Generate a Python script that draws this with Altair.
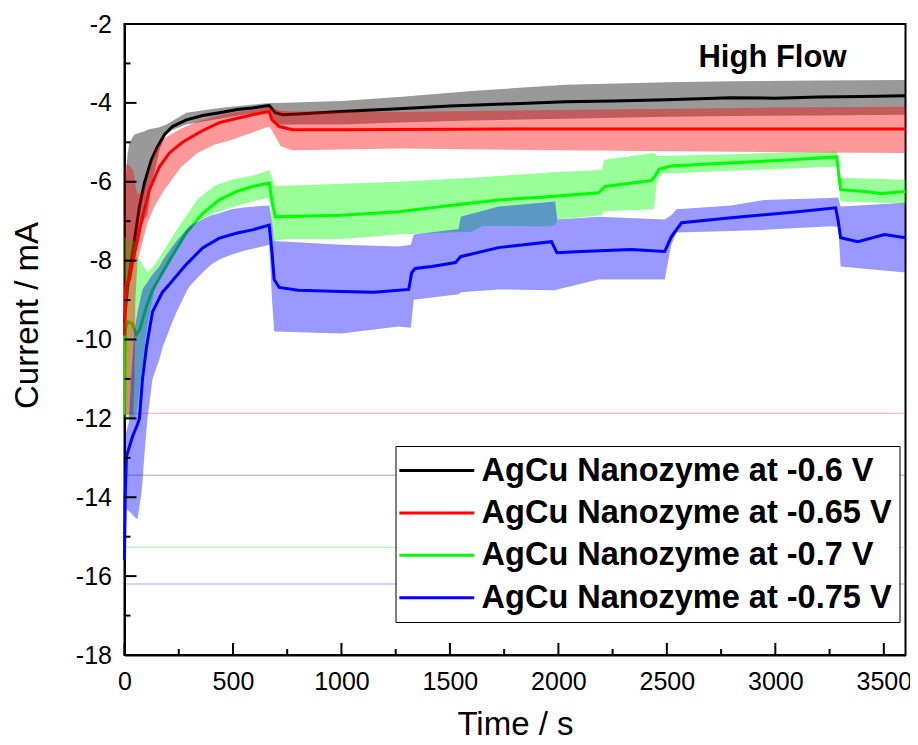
import altair as alt
import pandas as pd

labels = ["AgCu Nanozyme at -0.6 V", "AgCu Nanozyme at -0.65 V",
          "AgCu Nanozyme at -0.7 V", "AgCu Nanozyme at -0.75 V"]
colors = ["#000000", "#ff0000", "#00ff00", "#0000ff"]

# ---- -0.6 V (black) ----
k_t = [0, 5, 14, 23, 46, 69, 92, 124, 152, 185, 221, 285, 360, 437, 520, 589, 650, 667, 680, 695, 730, 800,
       1000, 1264, 1500, 1750, 2032, 2250, 2500, 2797, 3000, 3200, 3400, 3600]
k_y = [-9.6, -9.2, -8.7, -8.3, -7.47, -6.63, -6.03, -5.44, -5.11, -4.8, -4.6, -4.43, -4.32, -4.25, -4.17, -4.13,
       -4.08, -4.07, -4.15, -4.25, -4.3, -4.28, -4.22, -4.15, -4.08, -4.03, -3.97, -3.95, -3.92, -3.87, -3.88,
       -3.85, -3.84, -3.82]
k_bt = [0, 5, 14, 23, 46, 69, 92, 106, 120, 161, 193, 285, 437, 667, 680, 700, 1000, 1264, 1600, 2032, 2500,
        2800, 3200, 3600]
k_hi = [-6.0, -6.0, -5.3, -5.0, -4.8, -4.76, -4.72, -4.68, -4.66, -4.62, -4.55, -4.25, -4.13, -4.0, -4.0, -4.0,
        -3.95, -3.85, -3.7, -3.54, -3.48, -3.45, -3.43, -3.42]
k_lo = [-10.0, -9.4, -9.0, -8.6, -8.0, -7.2, -6.95, -6.85, -6.2, -5.2, -4.75, -4.55, -4.4, -4.2, -4.35, -4.55,
        -4.55, -4.5, -4.45, -4.4, -4.35, -4.33, -4.32, -4.3]

# ---- -0.65 V (red) ----
r_t = [0, 3, 8, 23, 37, 60, 83, 115, 161, 207, 267, 354, 437, 492, 589, 667, 680, 713, 773, 1000, 1500, 2000,
       2500, 3000, 3600]
r_y = [-9.9, -9.0, -8.6, -8.48, -8.05, -7.47, -6.89, -6.2, -5.62, -5.27, -5.0, -4.72, -4.5, -4.43, -4.3, -4.22,
       -4.43, -4.6, -4.68, -4.68, -4.67, -4.66, -4.66, -4.66, -4.66]
r_bt = [0, 5, 14, 40, 46, 50, 60, 80, 106, 140, 184, 262, 336, 414, 492, 589, 667, 690, 720, 773, 1000, 1264,
        2000, 3000, 3600]
r_hi = [-5.7, -5.6, -5.55, -5.7, -5.9, -6.1, -6.3, -6.3, -5.9, -5.2, -4.9, -4.65, -4.47, -4.35, -4.25, -4.18,
        -4.1, -4.15, -4.2, -4.22, -4.22, -4.23, -4.18, -4.12, -4.1]
r_lo = [-11.95, -11.9, -11.9, -11.9, -11.0, -9.0, -8.0, -7.6, -7.04, -6.6, -6.2, -5.62, -5.27, -5.06, -4.94,
        -4.75, -4.6, -4.8, -5.1, -5.2, -5.18, -5.16, -5.2, -5.25, -5.27]

# ---- -0.7 V (green) ----
g_t = [0, 2, 5, 15, 35, 55, 70, 101, 129, 170, 207, 284, 360, 437, 515, 589, 667, 680, 695, 750, 1000, 1264,
       1500, 1724, 1954, 2184, 2200, 2215, 2428, 2445, 2465, 2520, 2795, 3050, 3283, 3292, 3301, 3411, 3485, 3600]
g_y = [-11.9, -10.5, -9.7, -9.55, -9.6, -9.87, -9.75, -9.16, -8.75, -8.35, -8.0, -7.3, -6.8, -6.46, -6.25,
       -6.12, -6.03, -6.5, -6.89, -6.88, -6.85, -6.76, -6.6, -6.46, -6.38, -6.28, -6.2, -6.12, -5.97, -5.85,
       -5.68, -5.6, -5.52, -5.45, -5.37, -5.8, -6.2, -6.25, -6.3, -6.25]
g_bt = [0, 5, 46, 60, 106, 140, 184, 262, 336, 414, 492, 589, 667, 680, 690, 750, 1000, 1264, 1600, 1650, 1954,
        1985, 1995, 2200, 2212, 2440, 2455, 2480, 2800, 3283, 3300, 3600]
g_hi = [-7.4, -7.4, -7.5, -7.9, -8.3, -8.1, -7.72, -7.04, -6.45, -6.1, -5.95, -5.85, -5.7, -5.9, -6.1, -6.1,
        -6.05, -6.0, -5.9, -5.88, -5.77, -5.75, -5.75, -5.7, -5.44, -5.27, -5.35, -5.35, -5.3, -5.23, -5.9, -5.95]
g_lo = [-12.0, -12.0, -12.0, -11.7, -9.6, -8.7, -8.15, -7.47, -7.0, -6.8, -6.65, -6.5, -6.4, -7.0, -7.5, -7.45,
        -7.45, -7.34, -7.27, -7.12, -7.13, -7.1, -6.96, -6.85, -6.75, -6.7, -5.95, -5.8, -5.72, -5.62, -6.5, -6.55]

# ---- -0.75 V (blue) ----
b_t = [0, 3, 9, 37, 60, 69, 83, 101, 129, 175, 207, 284, 360, 437, 520, 589, 667, 680, 690, 713, 800, 1000,
       1150, 1310, 1324, 1340, 1416, 1526, 1549, 1724, 1968, 1993, 2106, 2336, 2490, 2521, 2568, 2797, 3103,
       3278, 3290, 3301, 3380, 3503, 3600]
b_y = [-15.6, -14.0, -12.96, -12.46, -12.15, -12.0, -11.0, -10.2, -9.3, -8.8, -8.6, -8.1, -7.68, -7.43, -7.3,
       -7.22, -7.1, -7.8, -8.48, -8.68, -8.75, -8.78, -8.8, -8.73, -8.3, -8.2, -8.15, -8.05, -7.9, -7.67, -7.52,
       -7.8, -7.77, -7.72, -7.77, -7.39, -7.04, -6.91, -6.76, -6.66, -7.0, -7.42, -7.52, -7.34, -7.42]
b_bt = [0, 10, 20, 30, 46, 60, 78, 83, 92, 106, 129, 161, 175, 221, 240, 284, 300, 360, 400, 437, 492, 550, 667,
        680, 690, 1000, 1264, 1320, 1333, 1540, 1550, 1724, 1985, 1995, 2184, 2490, 2520, 2545, 2797, 2950, 3255,
        3290, 3301, 3600]
b_hi = [-12.5, -12.3, -12.1, -11.0, -9.75, -9.3, -8.85, -8.73, -8.65, -8.55, -8.35, -8.15, -8.0, -7.64, -7.5,
        -7.22, -7.13, -6.95, -6.85, -6.8, -6.7, -6.65, -6.6, -7.0, -7.5, -7.6, -7.64, -7.6, -7.34, -7.2, -6.89,
        -6.63, -6.5, -6.96, -6.89, -6.96, -6.85, -6.7, -6.6, -6.46, -6.41, -6.4, -6.63, -6.53]
b_lo = [-16.0, -14.3, -14.35, -14.4, -14.5, -14.56, -13.9, -13.6, -12.9, -12.0, -11.0, -10.5, -10.2, -9.55,
        -9.3, -8.8, -8.65, -8.3, -8.1, -7.97, -7.85, -7.75, -7.6, -9.0, -9.8, -9.85, -9.67, -9.7, -8.99, -8.85,
        -8.8, -8.73, -8.75, -8.73, -8.48, -8.48, -7.6, -7.29, -7.25, -7.22, -7.13, -7.15, -8.15, -8.3]

# faint horizontal traces of the shaded bands
trace_y = [-11.87, -13.44, -15.27, -16.2]
trace_colors = ["#ff0000", "#000000", "#00ff00", "#0000ff"]

x_ticks = [0, 500, 1000, 1500, 2000, 2500, 3000, 3500]
x_minor = [250, 750, 1250, 1750, 2250, 2750, 3250]
y_ticks = [-18, -16, -14, -12, -10, -8, -6, -4, -2]
y_minor = [-17, -15, -13, -11, -9, -7, -5, -3]
annotation = ["High Flow"]

W, H = 781, 631
FONT = "Liberation Sans"

xs = alt.Scale(domain=[0, 3600], nice=False, zero=False)
ys = alt.Scale(domain=[-18, -2], nice=False, zero=False)
x_axis = alt.Axis(values=x_ticks, title="Time / s", labelExpr="'' + datum.value", ticks=False,
                  grid=False, labelPadding=14, labelFlush=False, titleY=79, titleBaseline="alphabetic")
y_axis = alt.Axis(values=y_ticks, title="Current / mA", labelExpr="'' + datum.value", ticks=False,
                  grid=False, labelPadding=13, labelFlush=False, titleX=-87, titleY=291, titleAngle=-90,
                  titleBaseline="alphabetic", titleAlign="center")


def X(field):
    return alt.X(field, type="quantitative", scale=xs, axis=x_axis)


def Y(field):
    return alt.Y(field, type="quantitative", scale=ys, axis=y_axis)


color_scale = alt.Scale(domain=labels, range=colors)
legend = alt.Legend(orient="none", legendX=271, legendY=422, title=None, labelFont=FONT,
                    labelFontSize=32.5, labelFontWeight="bold", labelColor="black", labelLimit=0,
                    symbolType="M-2.34,0H2.34", symbolSize=1024, symbolStrokeWidth=3,
                    symbolOpacity=1, padding=7, symbolOffset=16.8, labelOffset=27.3, rowPadding=8.4,
                    strokeColor="black", fillColor="white")

layers = []

for v, c in zip(trace_y, trace_colors):
    layers.append(alt.Chart(pd.DataFrame({"v": [v]})).mark_rule(
        strokeWidth=1, color=c, opacity=0.35).encode(y=Y("v")))

series = [
    (0, k_t, k_y, k_bt, k_lo, k_hi),
    (2, g_t, g_y, g_bt, g_lo, g_hi),
    (1, r_t, r_y, r_bt, r_lo, r_hi),
    (3, b_t, b_y, b_bt, b_lo, b_hi),
]
for idx, t, y, bt, lo, hi in series:
    band = pd.DataFrame({"t": bt, "lo": lo, "hi": hi})
    line = pd.DataFrame({"t": t, "y": y, "s": labels[idx]})
    layers.append(alt.Chart(band).mark_area(color=colors[idx], opacity=0.4).encode(
        x=X("t"), y=Y("lo"), y2="hi"))
    layers.append(alt.Chart(line).mark_line(strokeWidth=3, opacity=1).encode(
        x=X("t"), y=Y("y"), color=alt.Color("s:N", scale=color_scale, legend=legend)))

# inward ticks
layers.append(alt.Chart(pd.DataFrame({"v": y_ticks})).mark_rule(color="black", strokeWidth=2).encode(
    y=Y("v"), x=alt.value(0), x2=alt.value(12)))
layers.append(alt.Chart(pd.DataFrame({"v": y_minor})).mark_rule(color="black", strokeWidth=2).encode(
    y=Y("v"), x=alt.value(0), x2=alt.value(6)))
layers.append(alt.Chart(pd.DataFrame({"v": x_ticks})).mark_rule(color="black", strokeWidth=2).encode(
    x=X("v"), y=alt.value(H), y2=alt.value(H - 12)))
layers.append(alt.Chart(pd.DataFrame({"v": x_minor})).mark_rule(color="black", strokeWidth=2).encode(
    x=X("v"), y=alt.value(H), y2=alt.value(H - 6)))

layers.append(alt.Chart(pd.DataFrame({"label": annotation})).mark_text(
    font=FONT, fontSize=31, fontWeight="bold", color="black", align="center", baseline="alphabetic").encode(
    x=alt.value(648), y=alt.value(43), text="label:N"))

chart = alt.layer(*layers).properties(
    width=W, height=H,
    autosize=alt.AutoSizeParams(type="none"),
    padding={"left": 116.5, "top": 16, "right": 4.5, "bottom": 80},
    background="white",
).configure_view(stroke="black", strokeWidth=2).configure_axis(
    labelFont=FONT, labelFontSize=25, labelColor="black", titleFont=FONT, titleFontSize=33,
    titleFontWeight="normal", titleColor="black", domainColor="black", domainWidth=2,
)

chart.save("out.html", embed_options={"renderer": "svg", "actions": False})
